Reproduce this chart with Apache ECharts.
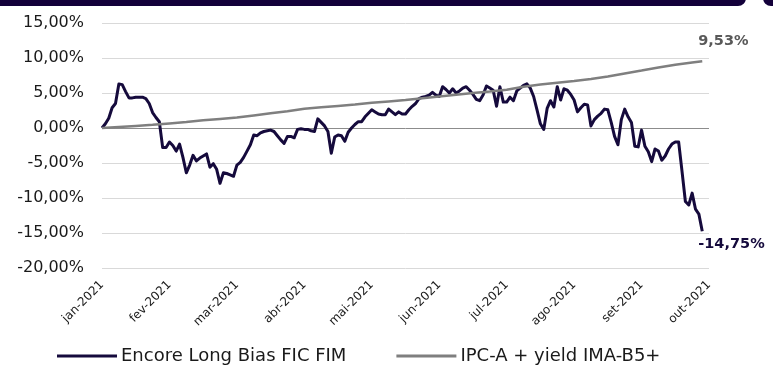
<!DOCTYPE html>
<html>
<head>
<meta charset="utf-8">
<script src="https://cdn.jsdelivr.net/npm/echarts@6/dist/echarts.min.js"></script>
<style>
  html, body { margin: 0; padding: 0; background: #ffffff; }
  #chart { width: 773px; height: 381px; }
</style>
</head>
<body>
<div id="chart"></div>
<script>
// Month tick labels (Jan to Oct 2021)
const monthLabels = ['jan-2021', 'fev-2021', 'mar-2021', 'abr-2021', 'mai-2021',
  'jun-2021', 'jul-2021', 'ago-2021', 'set-2021', 'out-2021'];

// Sampling grid: 20 steps per month
const STEPS_PER_MONTH = 20;

// Cumulative return of the fund (%), one value per grid step
const fundValues = [
  0, 0.6, 1.4, 2.9, 3.5, 6.3, 6.2, 5.2, 4.3, 4.3,
  4.4, 4.4, 4.4, 4.2, 3.5, 2.2, 1.5, 0.9, -2.8, -2.8,
  -2.0, -2.5, -3.3, -2.3, -4.2, -6.4, -5.3, -3.9, -4.7, -4.3,
  -4.0, -3.7, -5.6, -5.1, -5.9, -7.9, -6.4, -6.5, -6.7, -6.9,
  -5.3, -4.9, -4.2, -3.3, -2.4, -1.0, -1.1, -0.7, -0.5, -0.4,
  -0.3, -0.5, -1.1, -1.7, -2.2, -1.2, -1.2, -1.4, -0.2, -0.1,
  -0.2, -0.2, -0.4, -0.5, 1.3, 0.8, 0.3, -0.5, -3.6, -1.3,
  -1.0, -1.1, -1.9, -0.6, 0.0, 0.5, 0.9, 0.9, 1.6, 2.1,
  2.6, 2.3, 2.0, 1.9, 1.9, 2.7, 2.3, 1.9, 2.3, 2.0,
  2.0, 2.6, 3.1, 3.5, 4.2, 4.4, 4.5, 4.7, 5.1, 4.7,
  4.5, 5.9, 5.5, 5.0, 5.6, 5.0, 5.3, 5.7, 5.9, 5.4,
  4.8, 4.1, 3.9, 4.7, 6.0, 5.7, 5.4, 3.1, 5.9, 3.7,
  3.7, 4.4, 3.9, 5.3, 5.7, 6.1, 6.3, 5.7, 4.5, 2.6,
  0.6, -0.2, 2.8, 3.9, 3.0, 5.9, 4.0, 5.6, 5.4, 4.8,
  4.0, 2.3, 2.9, 3.4, 3.3, 0.3, 1.2, 1.7, 2.1, 2.7,
  2.6, 0.8, -1.2, -2.4, 1.2, 2.7, 1.6, 0.8, -2.6, -2.7,
  -0.3, -2.6, -3.4, -4.8, -3.0, -3.3, -4.6, -4.0, -3.0, -2.3,
  -2.0, -2.0, -6.2, -10.5, -11.0, -9.3, -11.6, -12.3, -14.75
];

// Benchmark cumulative return (%), one value every 5 grid steps, last value at the final date
const BENCH_STEP = 5;
const benchValues = [
  0, 0.15, 0.3, 0.45, 0.65, 0.85, 1.1, 1.3, 1.5, 1.8,
  2.1, 2.4, 2.75, 2.95, 3.15, 3.35, 3.6, 3.8, 4.0, 4.25,
  4.5, 4.75, 5.0, 5.2, 5.45, 5.9, 6.2, 6.45, 6.7, 7.0,
  7.35, 7.8, 8.2, 8.65, 9.05, 9.35, 9.53
];

// Value axis ticks
const yTicks = { min: -20, max: 15, interval: 5 };

const lastIndex = fundValues.length - 1;
const fundData = fundValues.map((v, i) => [i, v]);
const benchData = benchValues.map((v, i) => [Math.min(i * BENCH_STEP, lastIndex), v]);

const pct = v => v.toFixed(2).replace('.', ',') + '%';

const NAVY = '#150a3c';
const GREY = '#7f7f7f';

const chart = echarts.init(document.getElementById('chart'), null, { renderer: 'canvas' });

chart.setOption({
  animation: false,
  backgroundColor: '#ffffff',
  textStyle: { fontFamily: 'DejaVu Sans' },
  graphic: [
    { type: 'rect', shape: { x: -10, y: -10, width: 756, height: 16, r: [0, 0, 8, 0] },
      style: { fill: '#13003a' }, silent: true },
    { type: 'rect', shape: { x: 763, y: -10, width: 20, height: 16, r: [0, 0, 0, 8] },
      style: { fill: '#13003a' }, silent: true }
  ],
  grid: { left: 102, top: 23, width: 607, height: 245, containLabel: false },
  legend: {
    left: 57,
    top: 347,
    padding: 0,
    itemWidth: 60,
    itemHeight: 3,
    itemGap: 50,
    icon: 'rect',
    textStyle: { fontFamily: 'DejaVu Sans', fontSize: 18, color: '#1a1a1a', padding: [0, 0, 0, -1] },
    data: ['Encore Long Bias FIC FIM', 'IPC-A + yield IMA-B5+']
  },
  xAxis: {
    type: 'value',
    min: 0,
    max: (monthLabels.length - 1) * STEPS_PER_MONTH,
    interval: STEPS_PER_MONTH,
    axisLine: { show: false },
    axisTick: { show: false },
    splitLine: { show: false },
    axisLabel: {
      rotate: 45,
      margin: 15,
      fontSize: 12,
      color: '#1a1a1a',
      fontFamily: 'DejaVu Sans',
      formatter: v => monthLabels[Math.round(v / STEPS_PER_MONTH)] || ''
    }
  },
  yAxis: {
    type: 'value',
    min: yTicks.min,
    max: yTicks.max,
    interval: yTicks.interval,
    axisLine: { show: false },
    axisTick: { show: false },
    axisLabel: {
      margin: 18,
      fontSize: 16,
      color: '#1a1a1a',
      fontFamily: 'DejaVu Sans',
      formatter: pct
    },
    splitLine: {
      lineStyle: {
        width: 1,
        color: ['#d9d9d9', '#d9d9d9', '#d9d9d9', '#d9d9d9', '#8c8c8c', '#d9d9d9', '#d9d9d9', '#d9d9d9']
      }
    }
  },
  series: [
    {
      name: 'Encore Long Bias FIC FIM',
      type: 'line',
      data: fundData,
      showSymbol: false,
      symbol: 'none',
      color: NAVY,
      lineStyle: { width: 3, color: NAVY, join: 'round' },
      endLabel: {
        show: true,
        formatter: p => pct(p.value[1]),
        offset: [-12, 13],
        fontSize: 14.5,
        fontWeight: 'bold',
        color: NAVY,
        fontFamily: 'DejaVu Sans'
      },
      z: 2
    },
    {
      name: 'IPC-A + yield IMA-B5+',
      type: 'line',
      data: benchData,
      showSymbol: false,
      symbol: 'none',
      color: GREY,
      lineStyle: { width: 2.5, color: GREY },
      endLabel: {
        show: true,
        formatter: p => pct(p.value[1]),
        offset: [-12, -20],
        fontSize: 14.5,
        fontWeight: 'bold',
        color: '#595959',
        fontFamily: 'DejaVu Sans'
      },
      z: 3
    }
  ]
});
</script>
</body>
</html>
